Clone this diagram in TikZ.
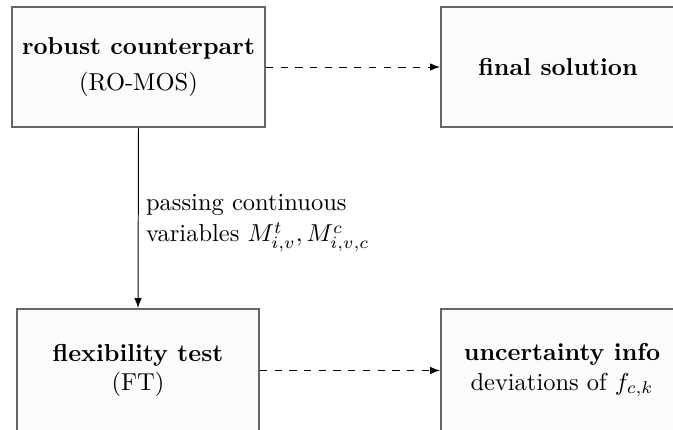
\documentclass[tikz,border=0pt]{standalone}
\usetikzlibrary{arrows.meta}
\begin{document}
\def\u{0.40833pt}
\begin{tikzpicture}[x=\u,y=-\u,
  box/.style={draw=black!60,fill=black!1.5,line width=0.8pt,inner sep=0pt,align=center},
  conn/.style={line width=0.4pt,-{Latex[length=4pt,width=3pt]}},
  lbl/.style={align=left,anchor=west,inner sep=0pt}]
\useasboundingbox (0,0) rectangle (673,430);
\node[box,minimum width=253*\u,minimum height=120*\u] (rc) at (138.5,67) {\textbf{robust counterpart}\\[3pt](RO-MOS)};
\node[box,minimum width=234*\u,minimum height=120*\u] (fs) at (558,67) {\textbf{final solution}};
\node[box,minimum width=242*\u,minimum height=123*\u] (ft) at (138,370.5) {\textbf{flexibility test}\\(FT)};
\node[box,minimum width=242*\u,minimum height=123*\u] (ui) at (562,370.5) {\textbf{uncertainty info}\\deviations of $f_{c,k}$};
\draw[conn,dashed] (rc.east) -- (fs.west);
\draw[conn,dashed] (ft.east) -- (ui.west);
\draw[conn] (rc.south) -- node[lbl,xshift=3pt,yshift=-2pt] (lab) {passing continuous\\[1pt]variables $M^t_{i,v}, M^c_{i,v,c}$} (ft.north);
\end{tikzpicture}
\end{document}
